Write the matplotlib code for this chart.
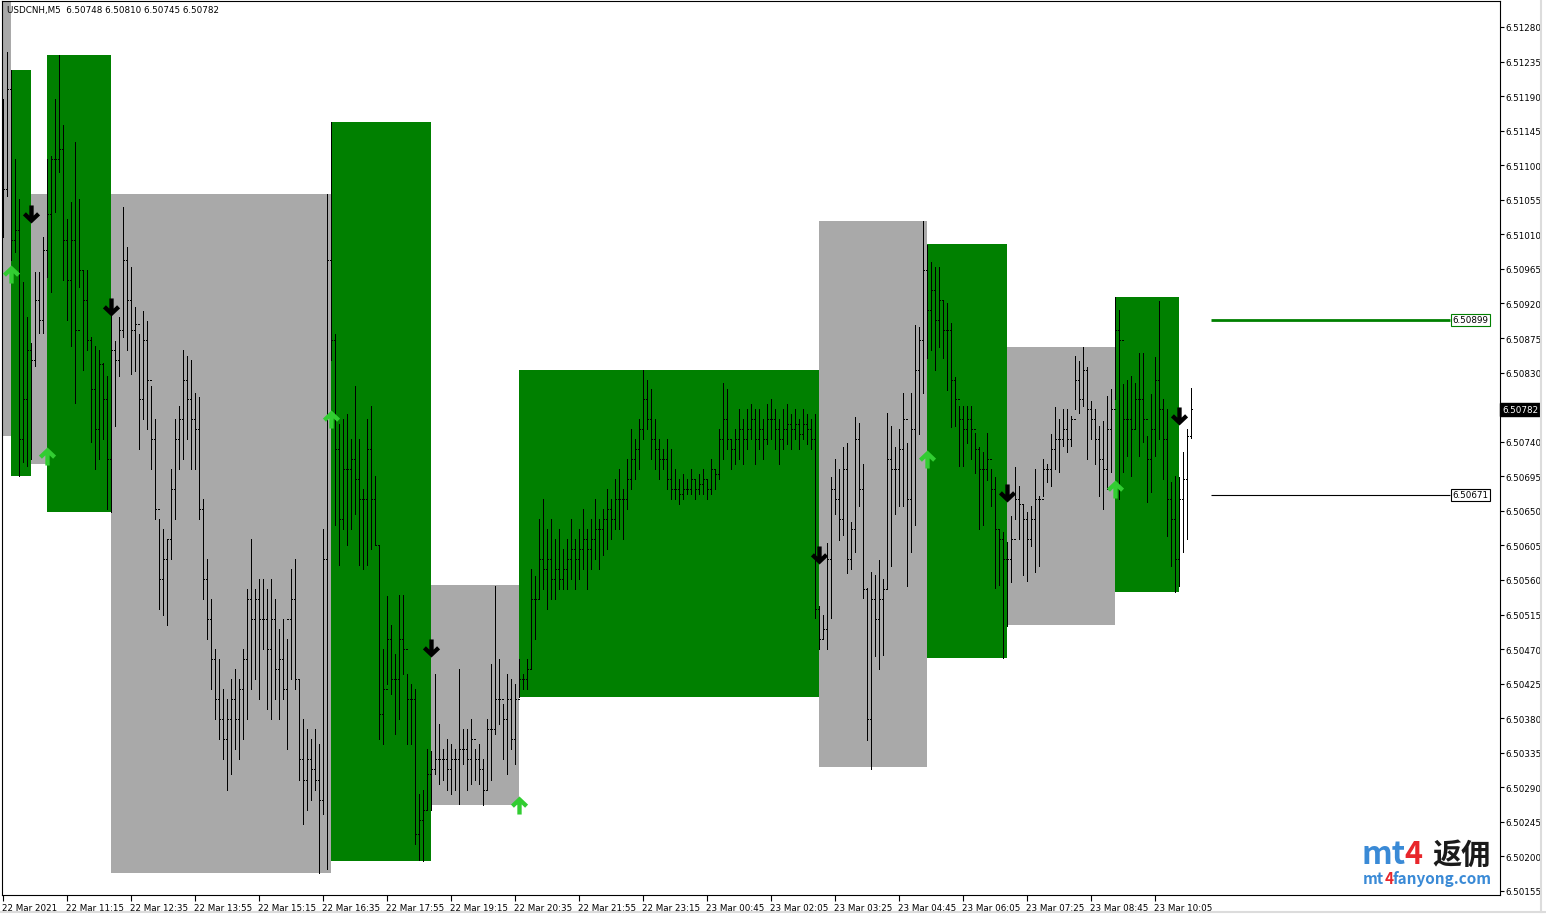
import matplotlib
matplotlib.use('Agg')
import matplotlib.pyplot as plt
from matplotlib.path import Path
from matplotlib.patches import Rectangle
from matplotlib.lines import Line2D
import matplotlib.transforms as mtransforms
import numpy as np

# ---------------- data ----------------
symbol_header = "USDCNH,M5  6.50748 6.50810 6.50745 6.50782"
first_open = 6.51150

highs = [
    6.51186, 6.51248, 6.51224, 6.51108, 6.51056, 6.50948, 6.50903, 6.50869, 6.50961, 6.50961,
    6.51006, 6.51108, 6.51112, 6.51186, 6.51244, 6.51153, 6.51030, 6.51052, 6.51130, 6.51056,
    6.50964, 6.50964, 6.50877, 6.50864, 6.50860, 6.50843, 6.50825, 6.50910, 6.50871, 6.50903,
    6.51045, 6.50994, 6.50967, 6.50915, 6.50880, 6.50910, 6.50897, 6.50812, 6.50769, 6.50639,
    6.50626, 6.50613, 6.50704, 6.50769, 6.50786, 6.50860, 6.50851, 6.50847, 6.50804, 6.50798,
    6.50665, 6.50587, 6.50535, 6.50470, 6.50457, 6.50418, 6.50405, 6.50431, 6.50444, 6.50431,
    6.50470, 6.50548, 6.50613, 6.50548, 6.50561, 6.50561, 6.50548, 6.50561, 6.50535, 6.50496,
    6.50509, 6.50483, 6.50574, 6.50587, 6.50431, 6.50379, 6.50366, 6.50353, 6.50366, 6.50346,
    6.50626, 6.51062, 6.51156, 6.50880, 6.50763, 6.50769, 6.50776, 6.50743, 6.50812, 6.50743,
    6.50678, 6.50769, 6.50786, 6.50695, 6.50606, 6.50470, 6.50539, 6.50502, 6.50463, 6.50541,
    6.50541, 6.50437, 6.50424, 6.50418, 6.50281, 6.50287, 6.50340, 6.50337, 6.50437, 6.50372,
    6.50340, 6.50353, 6.50346, 6.50340, 6.50444, 6.50366, 6.50366, 6.50379, 6.50340, 6.50346,
    6.50327, 6.50379, 6.50450, 6.50552, 6.50457, 6.50398, 6.50437, 6.50431, 6.50424, 6.50457,
    6.50437, 6.50457, 6.50574, 6.50565, 6.50639, 6.50665, 6.50626, 6.50639, 6.50613, 6.50626,
    6.50600, 6.50613, 6.50639, 6.50613, 6.50626, 6.50652, 6.50626, 6.50639, 6.50665, 6.50639,
    6.50652, 6.50678, 6.50665, 6.50691, 6.50704, 6.50678, 6.50717, 6.50756, 6.50743, 6.50769,
    6.50833, 6.50821, 6.50808, 6.50769, 6.50743, 6.50730, 6.50743, 6.50730, 6.50704, 6.50691,
    6.50698, 6.50691, 6.50704, 6.50691, 6.50698, 6.50704, 6.50691, 6.50717, 6.50704, 6.50756,
    6.50817, 6.50808, 6.50743, 6.50756, 6.50782, 6.50769, 6.50782, 6.50789, 6.50782, 6.50782,
    6.50769, 6.50789, 6.50795, 6.50782, 6.50769, 6.50782, 6.50789, 6.50776, 6.50782, 6.50769,
    6.50782, 6.50776, 6.50769, 6.50776, 6.50526, 6.50515, 6.50608, 6.50694, 6.50718, 6.50704,
    6.50733, 6.50738, 6.50636, 6.50772, 6.50764, 6.50711, 6.50549, 6.50571, 6.50566, 6.50586,
    6.50561, 6.50778, 6.50761, 6.50733, 6.50756, 6.50804, 6.50738, 6.50804, 6.50892, 6.50889,
    6.51027, 6.50996, 6.50974, 6.50968, 6.50967, 6.50925, 6.50920, 6.50894, 6.50824, 6.50786,
    6.50786, 6.50786, 6.50786, 6.50752, 6.50733, 6.50727, 6.50752, 6.50704, 6.50694, 6.50626,
    6.50622, 6.50609, 6.50643, 6.50707, 6.50682, 6.50659, 6.50649, 6.50656, 6.50704, 6.50669,
    6.50717, 6.50711, 6.50750, 6.50785, 6.50769, 6.50782, 6.50782, 6.50773, 6.50851, 6.50845,
    6.50863, 6.50837, 6.50793, 6.50782, 6.50760, 6.50767, 6.50799, 6.50808, 6.50928, 6.50912,
    6.50815, 6.50821, 6.50825, 6.50817, 6.50856, 6.50856, 6.50747, 6.50802, 6.50850, 6.50923,
    6.50795, 6.50782, 6.50687, 6.50695, 6.50694, 6.50726, 6.50756, 6.50810,
]

lows = [
    6.51007, 6.51060, 6.50977, 6.50987, 6.50696, 6.50713, 6.50708, 6.50717, 6.50838, 6.50882,
    6.50882, 6.50955, 6.50935, 6.51039, 6.51091, 6.50951, 6.50899, 6.50864, 6.50791, 6.50942,
    6.50834, 6.50860, 6.50739, 6.50704, 6.50717, 6.50743, 6.50652, 6.50648, 6.50760, 6.50825,
    6.50877, 6.50860, 6.50828, 6.50832, 6.50730, 6.50769, 6.50756, 6.50704, 6.50639, 6.50522,
    6.50515, 6.50502, 6.50587, 6.50639, 6.50704, 6.50717, 6.50743, 6.50704, 6.50704, 6.50639,
    6.50535, 6.50483, 6.50418, 6.50379, 6.50353, 6.50327, 6.50287, 6.50307, 6.50340, 6.50327,
    6.50353, 6.50379, 6.50418, 6.50431, 6.50405, 6.50470, 6.50392, 6.50379, 6.50405, 6.50379,
    6.50405, 6.50340, 6.50431, 6.50418, 6.50300, 6.50242, 6.50261, 6.50274, 6.50287, 6.50178,
    6.50255, 6.50183, 6.50847, 6.50632, 6.50580, 6.50626, 6.50606, 6.50626, 6.50646, 6.50580,
    6.50574, 6.50580, 6.50600, 6.50606, 6.50353, 6.50346, 6.50424, 6.50411, 6.50359, 6.50379,
    6.50437, 6.50346, 6.50346, 6.50216, 6.50196, 6.50194, 6.50261, 6.50261, 6.50307, 6.50294,
    6.50300, 6.50287, 6.50281, 6.50287, 6.50268, 6.50320, 6.50287, 6.50294, 6.50300, 6.50294,
    6.50267, 6.50287, 6.50300, 6.50359, 6.50372, 6.50327, 6.50307, 6.50340, 6.50320, 6.50407,
    6.50418, 6.50418, 6.50444, 6.50483, 6.50535, 6.50548, 6.50522, 6.50535, 6.50535, 6.50548,
    6.50548, 6.50548, 6.50561, 6.50548, 6.50561, 6.50574, 6.50548, 6.50574, 6.50587, 6.50574,
    6.50593, 6.50600, 6.50613, 6.50626, 6.50626, 6.50613, 6.50652, 6.50678, 6.50691, 6.50704,
    6.50743, 6.50756, 6.50717, 6.50704, 6.50691, 6.50704, 6.50678, 6.50665, 6.50665, 6.50659,
    6.50665, 6.50672, 6.50672, 6.50665, 6.50672, 6.50672, 6.50665, 6.50672, 6.50678, 6.50691,
    6.50717, 6.50730, 6.50704, 6.50711, 6.50717, 6.50711, 6.50730, 6.50743, 6.50711, 6.50730,
    6.50717, 6.50737, 6.50743, 6.50730, 6.50711, 6.50730, 6.50737, 6.50730, 6.50743, 6.50730,
    6.50743, 6.50737, 6.50730, 6.50511, 6.50470, 6.50483, 6.50470, 6.50511, 6.50646, 6.50612,
    6.50619, 6.50569, 6.50574, 6.50597, 6.50656, 6.50537, 6.50351, 6.50314, 6.50461, 6.50444,
    6.50462, 6.50549, 6.50578, 6.50646, 6.50656, 6.50656, 6.50552, 6.50597, 6.50631, 6.50750,
    6.50803, 6.50849, 6.50860, 6.50834, 6.50863, 6.50849, 6.50807, 6.50759, 6.50761, 6.50708,
    6.50708, 6.50738, 6.50718, 6.50699, 6.50626, 6.50631, 6.50690, 6.50656, 6.50549, 6.50554,
    6.50458, 6.50500, 6.50557, 6.50639, 6.50613, 6.50567, 6.50558, 6.50604, 6.50570, 6.50578,
    6.50669, 6.50687, 6.50682, 6.50704, 6.50700, 6.50734, 6.50727, 6.50734, 6.50782, 6.50778,
    6.50786, 6.50717, 6.50743, 6.50711, 6.50669, 6.50652, 6.50678, 6.50700, 6.50795, 6.50665,
    6.50700, 6.50721, 6.50695, 6.50756, 6.50721, 6.50739, 6.50661, 6.50674, 6.50721, 6.50743,
    6.50691, 6.50617, 6.50578, 6.50544, 6.50552, 6.50597, 6.50613, 6.50745,
]

closes = [
    6.51069, 6.51199, 6.51003, 6.51016, 6.50743, 6.50795, 6.50860, 6.50847, 6.50925, 6.50899,
    6.50990, 6.51036, 6.51108, 6.51108, 6.51121, 6.51003, 6.50951, 6.51003, 6.50886, 6.50964,
    6.50925, 6.50873, 6.50808, 6.50756, 6.50841, 6.50795, 6.50717, 6.50860, 6.50847, 6.50886,
    6.50977, 6.50925, 6.50886, 6.50893, 6.50795, 6.50873, 6.50821, 6.50743, 6.50652, 6.50561,
    6.50587, 6.50613, 6.50678, 6.50743, 6.50769, 6.50821, 6.50795, 6.50769, 6.50756, 6.50652,
    6.50561, 6.50509, 6.50457, 6.50405, 6.50379, 6.50353, 6.50379, 6.50405, 6.50379, 6.50418,
    6.50457, 6.50535, 6.50509, 6.50535, 6.50509, 6.50509, 6.50470, 6.50509, 6.50444, 6.50457,
    6.50418, 6.50509, 6.50535, 6.50431, 6.50327, 6.50300, 6.50327, 6.50314, 6.50300, 6.50274,
    6.50587, 6.50977, 6.50873, 6.50730, 6.50639, 6.50704, 6.50704, 6.50717, 6.50691, 6.50665,
    6.50665, 6.50730, 6.50665, 6.50606, 6.50385, 6.50418, 6.50483, 6.50431, 6.50431, 6.50483,
    6.50470, 6.50405, 6.50405, 6.50229, 6.50248, 6.50261, 6.50307, 6.50314, 6.50327, 6.50327,
    6.50327, 6.50314, 6.50327, 6.50327, 6.50340, 6.50340, 6.50327, 6.50353, 6.50327, 6.50314,
    6.50287, 6.50366, 6.50366, 6.50405, 6.50405, 6.50379, 6.50405, 6.50353, 6.50405, 6.50431,
    6.50431, 6.50444, 6.50535, 6.50535, 6.50587, 6.50574, 6.50587, 6.50561, 6.50574, 6.50561,
    6.50574, 6.50587, 6.50600, 6.50587, 6.50600, 6.50613, 6.50600, 6.50613, 6.50626, 6.50626,
    6.50639, 6.50652, 6.50639, 6.50665, 6.50665, 6.50665, 6.50691, 6.50717, 6.50730, 6.50756,
    6.50795, 6.50769, 6.50743, 6.50730, 6.50717, 6.50717, 6.50691, 6.50678, 6.50678, 6.50672,
    6.50678, 6.50678, 6.50691, 6.50678, 6.50685, 6.50691, 6.50678, 6.50704, 6.50698, 6.50743,
    6.50769, 6.50743, 6.50730, 6.50743, 6.50756, 6.50743, 6.50756, 6.50769, 6.50743, 6.50756,
    6.50743, 6.50769, 6.50769, 6.50756, 6.50743, 6.50756, 6.50763, 6.50756, 6.50763, 6.50750,
    6.50763, 6.50756, 6.50743, 6.50522, 6.50483, 6.50496, 6.50587, 6.50678, 6.50665, 6.50639,
    6.50704, 6.50587, 6.50626, 6.50743, 6.50678, 6.50548, 6.50379, 6.50535, 6.50509, 6.50535,
    6.50548, 6.50717, 6.50704, 6.50704, 6.50730, 6.50769, 6.50665, 6.50756, 6.50834, 6.50873,
    6.50964, 6.50912, 6.50938, 6.50899, 6.50925, 6.50886, 6.50886, 6.50821, 6.50795, 6.50769,
    6.50756, 6.50769, 6.50756, 6.50730, 6.50704, 6.50704, 6.50717, 6.50678, 6.50626, 6.50613,
    6.50587, 6.50587, 6.50613, 6.50665, 6.50659, 6.50639, 6.50613, 6.50639, 6.50665, 6.50665,
    6.50704, 6.50704, 6.50730, 6.50743, 6.50743, 6.50756, 6.50743, 6.50769, 6.50821, 6.50795,
    6.50834, 6.50782, 6.50769, 6.50743, 6.50717, 6.50704, 6.50756, 6.50782, 6.50886, 6.50873,
    6.50769, 6.50769, 6.50756, 6.50795, 6.50795, 6.50769, 6.50717, 6.50756, 6.50821, 6.50782,
    6.50743, 6.50665, 6.50639, 6.50587, 6.50665, 6.50691, 6.50748, 6.50782,
]

time_labels = ["22 Mar 2021", "22 Mar 11:15", "22 Mar 12:35", "22 Mar 13:55", "22 Mar 15:15",
               "22 Mar 16:35", "22 Mar 17:55", "22 Mar 19:15", "22 Mar 20:35", "22 Mar 21:55",
               "22 Mar 23:15", "23 Mar 00:45", "23 Mar 02:05", "23 Mar 03:25", "23 Mar 04:45",
               "23 Mar 06:05", "23 Mar 07:25", "23 Mar 08:45", "23 Mar 10:05"]
time_label_bars = [0, 16, 32, 48, 64, 80, 96, 112, 128, 144, 160, 176, 192, 208, 224, 240, 256, 272, 288]

price_ticks = [6.50155, 6.50200, 6.50245, 6.50290, 6.50335, 6.50380, 6.50425, 6.50470, 6.50515,
               6.50560, 6.50605, 6.50650, 6.50695, 6.50740, 6.50785, 6.50830, 6.50875, 6.50920,
               6.50965, 6.51010, 6.51055, 6.51100, 6.51145, 6.51190, 6.51235, 6.51280]
# tick label hidden under the current-price marker
hidden_tick = 6.50785

box_start = [0, 2, 7, 11, 27, 82, 107, 129, 204, 231, 251, 278]
box_end = [2, 7, 11, 27, 82, 107, 129, 204, 231, 251, 278, 294]
box_top = [6.51340, 6.51224, 6.51063, 6.51244, 6.51062, 6.51156, 6.50553, 6.50833, 6.51027, 6.50997, 6.50863, 6.50928]
box_bottom = [6.50747, 6.50696, 6.50711, 6.50649, 6.50178, 6.50194, 6.50267, 6.50407, 6.50316, 6.50459, 6.50501, 6.50544]
box_kind = ['down', 'up', 'down', 'up', 'down', 'up', 'down', 'up', 'down', 'up', 'down', 'up']

up_bars = [2, 11, 82, 129, 231, 278]
up_prices = [6.50958, 6.50721, 6.50769, 6.50267, 6.50718, 6.50678]
down_bars = [7, 27, 107, 204, 251, 294]
down_prices = [6.51036, 6.50915, 6.50472, 6.50592, 6.50673, 6.50773]

level_prices = [6.50899, 6.50671]
level_labels = ["6.50899", "6.50671"]
current_price = 6.50782
current_label = "6.50782"

# ---------------- styling ----------------
W, H = 1546, 920
GREEN = '#008000'
GRAY = '#A9A9A9'
LIME = '#32CD32'
plt.rcParams['font.family'] = ['DejaVu Sans']

fig = plt.figure(figsize=(W / 100, H / 100), dpi=100)
fig.patch.set_facecolor('white')
ax = fig.add_axes([2 / W, 24 / H, 1498 / W, 894 / H])
ax.set_facecolor('white')

px_per_bar = 4.0
ax.set_xlim(-0.25, -0.25 + 1498 / px_per_bar)
ax.set_ylim(6.5014979, 6.5131385)

n = len(highs)
idx = np.arange(n)
opens = [first_open] + closes[:-1]

# boxes
for s, e, t, b, k in zip(box_start, box_end, box_top, box_bottom, box_kind):
    ax.add_patch(Rectangle((s, b), e - s, t - b, facecolor=GREEN if k == 'up' else GRAY,
                           edgecolor='none', linewidth=0, zorder=1, antialiased=False))

# OHLC bars
lw = 0.72
ax.vlines(idx, lows, highs, colors='black', linewidth=lw, zorder=3, antialiased=False)
ax.hlines(opens, idx - 0.3, idx, colors='black', linewidth=lw, zorder=3, antialiased=False)
ax.hlines(closes, idx, idx + 0.3, colors='black', linewidth=lw, zorder=3, antialiased=False)

# arrows (custom markers)
down_verts = [(0, -1), (0.95, -0.1), (0.62, 0.25), (0.24, -0.12), (0.24, 1), (-0.24, 1),
              (-0.24, -0.12), (-0.62, 0.25), (-0.95, -0.1), (0, -1)]
down_path = Path(down_verts, closed=True)
up_path = Path([(x, -y) for x, y in down_verts], closed=True)
ax.plot(up_bars, up_prices, linestyle='none', marker=up_path, markersize=13,
        color=LIME, markeredgewidth=0, zorder=5)
ax.plot(down_bars, down_prices, linestyle='none', marker=down_path, markersize=13,
        color='black', markeredgewidth=0, zorder=5)

# horizontal levels on the right
line_start = 302
line_end = (1450 - 3) / px_per_bar
ax.hlines(level_prices[0], line_start, line_end, colors=GREEN, linewidth=2.0, zorder=4)
ax.hlines(level_prices[1], line_start, line_end, colors='black', linewidth=0.8, zorder=4)
for p, lab, c in zip(level_prices, level_labels, [GREEN, 'black']):
    ax.text(line_end + 0.6, p, lab, fontsize=6.3, va='center', ha='left', color='black', zorder=6,
            bbox=dict(boxstyle='square,pad=0.18', facecolor='white', edgecolor=c, linewidth=0.8))

# axes styling
for sp in ax.spines.values():
    sp.set_color('black')
    sp.set_linewidth(0.8)
ax.yaxis.tick_right()
ax.set_yticks(price_ticks)
ax.set_yticklabels(['' if abs(v - hidden_tick) < 1e-7 else f'{v:.5f}' for v in price_ticks])
ax.tick_params(axis='y', direction='out', length=3, width=0.8, pad=1, labelsize=6.3, colors='black')
ax.set_xticks(time_label_bars)
ax.set_xticklabels(time_labels)
for t in ax.get_xticklabels():
    t.set_horizontalalignment('left')
ax.tick_params(axis='x', direction='out', length=4, width=0.8, pad=2, labelsize=6.3, colors='black')
offset = mtransforms.ScaledTranslation(-1 / 100, 0, fig.dpi_scale_trans)
for t in ax.get_xticklabels():
    t.set_transform(t.get_transform() + offset)

# current price tag
trans = mtransforms.blended_transform_factory(ax.transAxes, ax.transData)
ax.text(1.0 + 2 / 1498, current_price, current_label, transform=trans, fontsize=6.3,
        color='white', va='center', ha='left', clip_on=False, zorder=7,
        bbox=dict(boxstyle='square,pad=0.2', facecolor='black', edgecolor='black'))

# header
fig.text(7 / W, 1 - 10 / H, symbol_header, fontsize=6.3, va='center', ha='left', color='black')

# watermark
cjk = ['Noto Sans CJK SC', 'DejaVu Sans']
fig.text(1362 / W, 1 - 864 / H, "mt", fontsize=23, fontweight='bold', color='#3a8ad6',
         family=cjk, va='baseline', ha='left')
fig.text(1404 / W, 1 - 864 / H, "4", fontsize=22, fontweight='bold', color='#e8262b',
         family=cjk, va='baseline', ha='left')
fig.text(1432 / W, 1 - 864 / H, "返佣", fontsize=21, fontweight='bold', color='#1a1a1a',
         family=cjk, va='baseline', ha='left')
wm_y = 1 - 884 / H
fig.text(1363 / W, wm_y, "mt", fontsize=11, fontweight='bold', color='#3a8ad6',
         family=cjk, va='baseline', ha='left')
fig.text(1385 / W, wm_y, "4", fontsize=11, fontweight='bold', color='#e8262b',
         family=cjk, va='baseline', ha='left')
fig.text(1393 / W, wm_y, "fanyong.com", fontsize=11, fontweight='bold', color='#3a8ad6',
         family=cjk, va='baseline', ha='left')

# window frame
fig.add_artist(Line2D([0, 1], [1 - 913 / H, 1 - 913 / H], color='#dcdcdc', linewidth=1.5,
                      transform=fig.transFigure))
fig.add_artist(Line2D([1 - 5 / W, 1 - 5 / W], [1 - 913 / H, 1], color='#dcdcdc', linewidth=1.5,
                      transform=fig.transFigure))

fig.savefig('out.png', dpi=100, facecolor='white')
